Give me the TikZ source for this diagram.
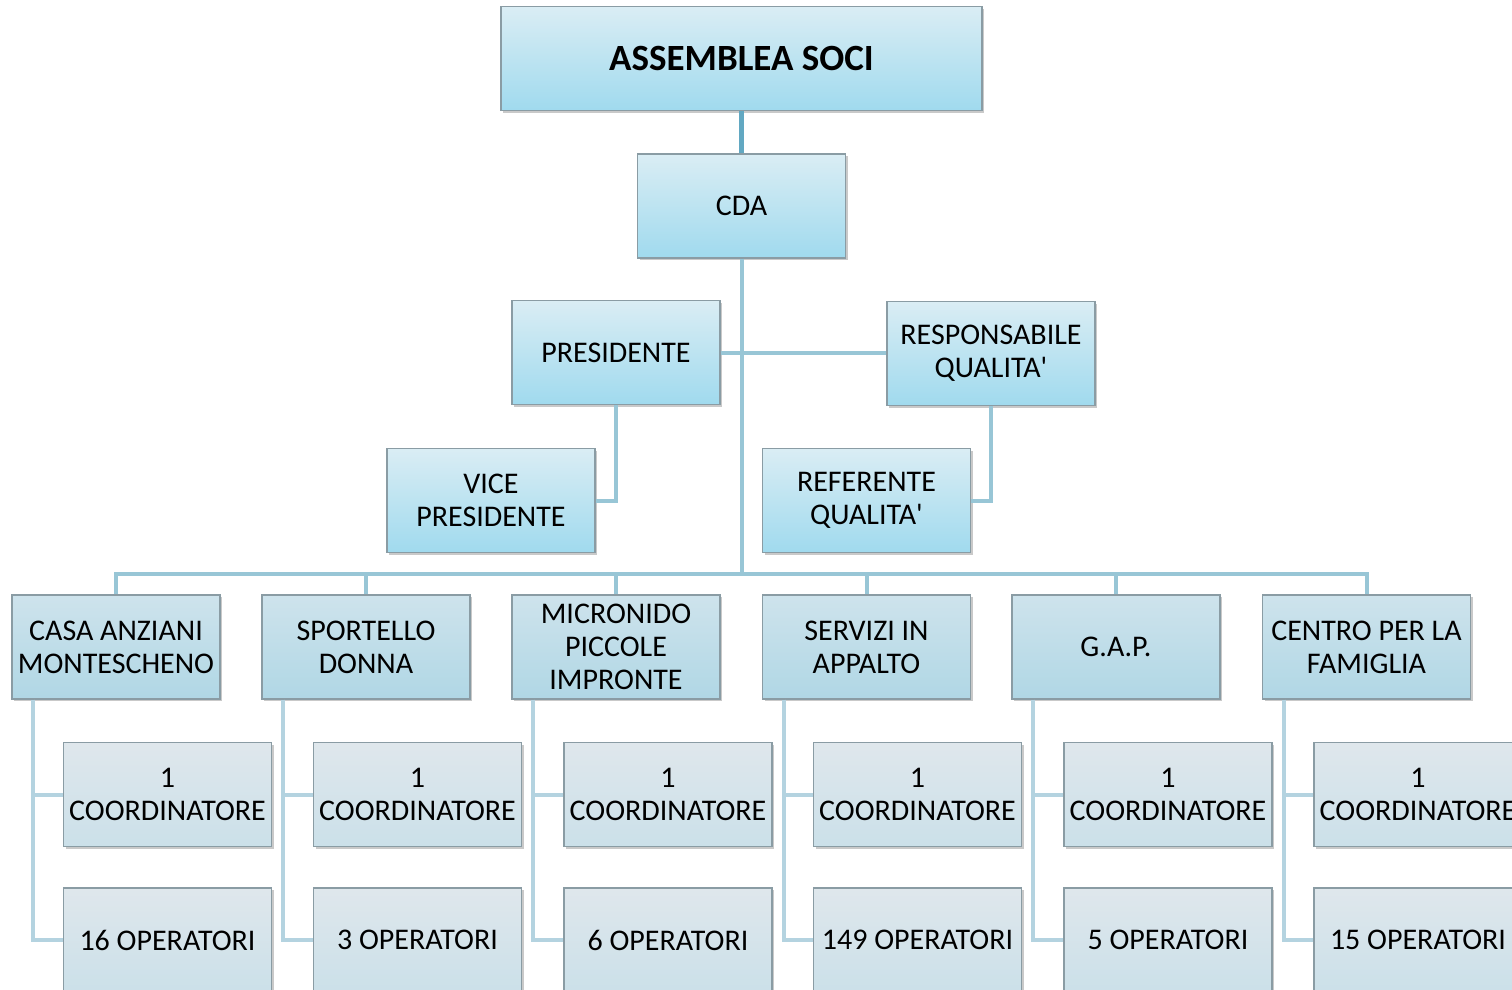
\documentclass[tikz,border=0pt]{standalone}
\usepackage{fontspec}
\setmainfont{Carlito}
\usetikzlibrary{shadows}
\definecolor{boxline}{RGB}{138,156,164}
\definecolor{topA}{RGB}{218,237,244}
\definecolor{topB}{RGB}{160,218,238}
\definecolor{midA}{RGB}{206,227,236}
\definecolor{midB}{RGB}{176,215,229}
\definecolor{lowA}{RGB}{223,231,236}
\definecolor{lowB}{RGB}{203,224,233}
\definecolor{linkA}{RGB}{98,168,194}
\definecolor{linkB}{RGB}{152,198,214}
\definecolor{linkC}{RGB}{180,211,224}
\newcommand{\apos}{\textquotesingle}
\tikzset{
  orgbox/.style={draw=boxline, line width=0.6pt, minimum width=104pt, minimum height=52pt,
    align=center, inner sep=0pt, font=\fontsize{15}{16.5}\selectfont,
    drop shadow={shadow xshift=1.2pt, shadow yshift=-1.2pt, opacity=0.3, fill=black!70}},
  upper/.style={orgbox, top color=topA, bottom color=topB},
  unit/.style={orgbox, top color=midA, bottom color=midB},
  staff/.style={orgbox, top color=lowA, bottom color=lowB},
  linkone/.style={draw=linkA, line width=2.4pt},
  linktwo/.style={draw=linkB, line width=2pt},
  linkthree/.style={draw=linkC, line width=2pt},
}
\begin{document}
\begin{tikzpicture}[x=0.5pt, y=-0.5pt]
\useasboundingbox (0,0) rectangle (1512,990);
\clip (0,0) rectangle (1512,990);

% governing bodies
\node[upper, minimum width=240.5pt, font=\fontsize{18.5}{20}\selectfont\bfseries] (as) at (741.5,58.5) {ASSEMBLEA SOCI};
\node[upper] (cda) at (741.5,206) {CDA};
\node[upper] (pres) at (616,352.5) {PRESIDENTE};
\node[upper] (resp) at (991,353.5) {RESPONSABILE\\QUALITA\apos};
\node[upper] (vice) at (491,500.5) {VICE\\PRESIDENTE};
\node[upper] (ref) at (866.5,500.5) {REFERENTE\\QUALITA\apos};
\coordinate (bus) at (741.5,574);

% services
\node[unit] (u1) at (116,647) {CASA ANZIANI\\MONTESCHENO};
\node[unit] (u2) at (366,647) {SPORTELLO\\DONNA};
\node[unit] (u3) at (616,647) {MICRONIDO\\PICCOLE\\IMPRONTE};
\node[unit] (u4) at (866.5,647) {SERVIZI IN\\APPALTO};
\node[unit] (u5) at (1116,647) {G.A.P.};
\node[unit] (u6) at (1366.5,647) {CENTRO PER LA\\FAMIGLIA};

% staff of each service
\node[staff] (c1) at (167.5,794.5) {1\\COORDINATORE};
\node[staff] (c2) at (417.5,794.5) {1\\COORDINATORE};
\node[staff] (c3) at (668,794.5) {1\\COORDINATORE};
\node[staff] (c4) at (917.5,794.5) {1\\COORDINATORE};
\node[staff] (c5) at (1168,794.5) {1\\COORDINATORE};
\node[staff] (c6) at (1418,794.5) {1\\COORDINATORE};
\node[staff] (o1) at (167.5,940) {16 OPERATORI};
\node[staff] (o2) at (417.5,940) {3 OPERATORI};
\node[staff] (o3) at (668,940) {6 OPERATORI};
\node[staff] (o4) at (917.5,940) {149 OPERATORI};
\node[staff] (o5) at (1168,940) {5 OPERATORI};
\node[staff] (o6) at (1418,940) {15 OPERATORI};

% connectors
\draw[linkone] (as.south) -- (cda.north);
\draw[linktwo] (cda.south) -- (bus);
\draw[linktwo] (pres.east) -- (resp.west |- pres.east);
\draw[linktwo] (pres.south) |- (vice.east);
\draw[linktwo] (resp.south) |- (ref.east);
\foreach \u in {u1,u2,u3,u4,u5,u6}
  \draw[linktwo] (bus) -| (\u.north);
\foreach \i in {1,...,6}{
  \draw[linkthree] ([xshift=11pt]u\i.south west) |- (c\i.west);
  \draw[linkthree] ([xshift=11pt]u\i.south west) |- (o\i.west);
}
\end{tikzpicture}
\end{document}
